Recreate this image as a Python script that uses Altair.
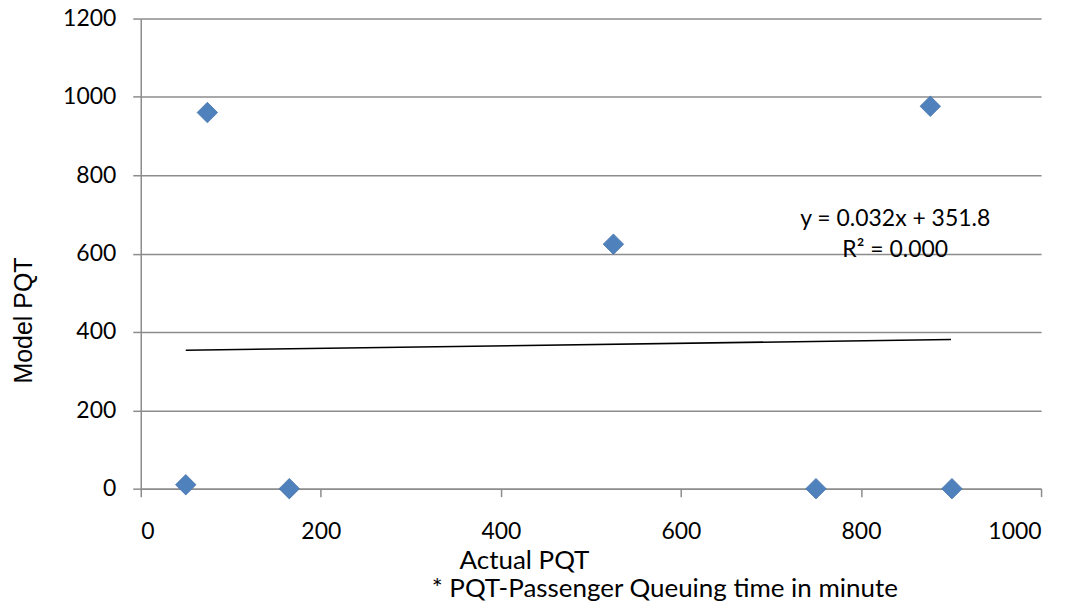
import altair as alt
import pandas as pd

# Data
actual_pqt = [50, 74, 165, 525, 750, 877, 901]
model_pqt = [10, 960, 0, 624, 0, 976, 0]

slope = 0.032
intercept = 351.8
trend_x = [50, 900]
trend_y = [slope * v + intercept for v in trend_x]

eq_text = ["y = 0.032x + 351.8", "R\u00b2 = 0.000"]
eq_x = [838, 838]
eq_y = [688, 608]

footnote = "* PQT-Passenger Queuing time in minute"

FONT = "Lato"
FS = 23
TFS = 26
GRID = "#8c8c8c"

pts = pd.DataFrame({"x": actual_pqt, "y": model_pqt})
trend = pd.DataFrame({"x": trend_x, "y": trend_y})
eq = pd.DataFrame({"x": eq_x, "y": eq_y, "t": eq_text})

xscale = alt.Scale(domain=[0, 1000], nice=False, zero=False)
yscale = alt.Scale(domain=[0, 1200], nice=False, zero=False)

xaxis = alt.Axis(
    values=[0, 200, 400, 600, 800, 1000], grid=False, title="Actual PQT", format="d",
    tickSize=8, tickColor=GRID, tickWidth=1.5, domainColor=GRID, domainWidth=1.5,
    labelFont=FONT, labelFontSize=FS, labelColor="#000000", labelPadding=24,
    titleFont=FONT, titleFontSize=TFS, titleFontWeight="normal", titleColor="#000000",
    titleX=384, titleY=72, titleBaseline="middle", titleAlign="center",
)
yaxis = alt.Axis(
    values=[0, 200, 400, 600, 800, 1000, 1200], grid=True, gridColor=GRID, gridWidth=1.5,
    title="Model PQT", format="d", tickSize=8, tickColor=GRID, tickWidth=1.5,
    domainColor=GRID, domainWidth=1.5,
    labelFont=FONT, labelFontSize=FS, labelColor="#000000", labelPadding=17,
    titleFont="Liberation Sans", titleFontSize=25, titleFontWeight="normal", titleColor="#000000",
    titleX=-117, titleY=302, titleBaseline="middle", titleAlign="center", titleAngle=-90,
)

points = alt.Chart(pts).mark_point(
    shape="diamond", filled=True, size=420, color="#4F81BD", opacity=1,
    stroke="#4775aa", strokeWidth=0.8,
).encode(
    x=alt.X("x:Q", scale=xscale, axis=xaxis),
    y=alt.Y("y:Q", scale=yscale, axis=yaxis),
)

line = alt.Chart(trend).mark_line(color="#000000", strokeWidth=1.6).encode(
    x=alt.X("x:Q", scale=xscale), y=alt.Y("y:Q", scale=yscale)
)

eq_marks = alt.Chart(eq).mark_text(
    font=FONT, fontSize=FS, color="#000000", align="center", baseline="middle"
).encode(
    x=alt.X("x:Q", scale=xscale), y=alt.Y("y:Q", scale=yscale), text="t:N"
)

note = alt.Chart(pd.DataFrame({"t": [footnote]})).mark_text(
    font=FONT, fontSize=TFS, color="#000000", align="center", baseline="middle"
).encode(x=alt.value(525), y=alt.value(572), text="t:N")

chart = alt.layer(line, points, eq_marks, note).properties(
    width=902, height=471,
    autosize=alt.AutoSizeParams(type="none"),
    padding={"left": 133, "top": 10, "right": 30, "bottom": 115},
).configure_view(stroke=None).configure_axis(labelFontWeight="normal")

chart.save("out.html", embed_options={"renderer": "svg", "actions": False})
